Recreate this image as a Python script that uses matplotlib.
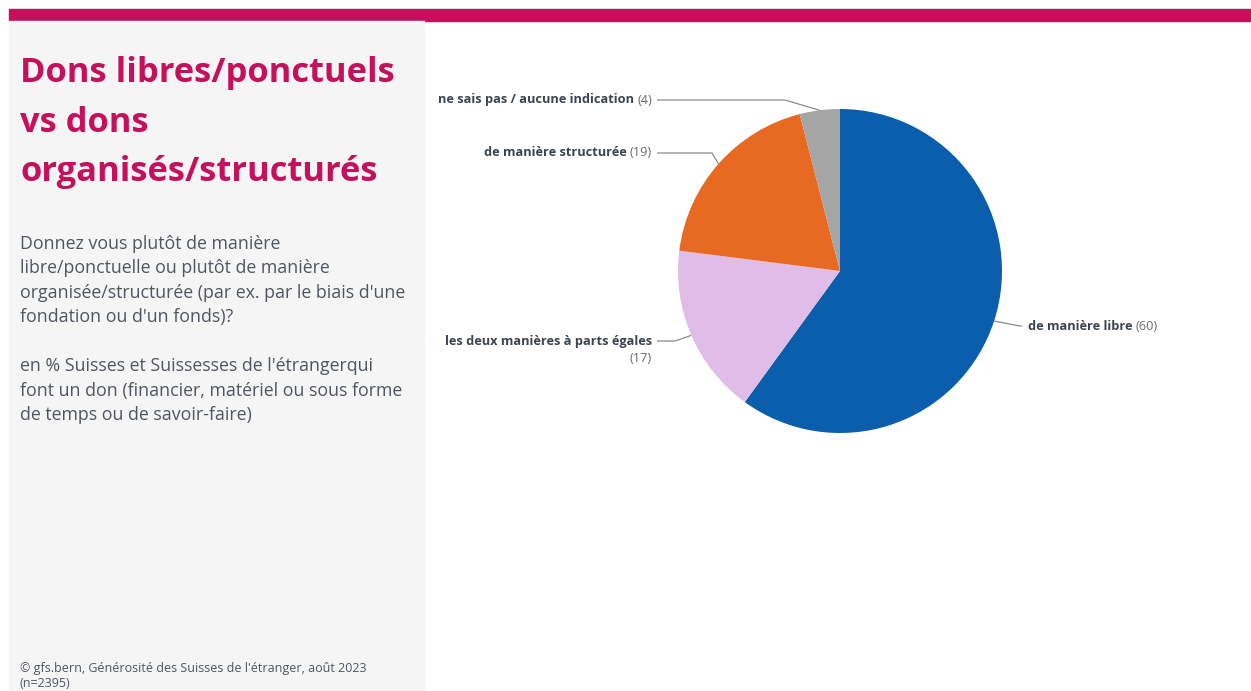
import numpy as np
import matplotlib.pyplot as plt
from matplotlib.patches import Rectangle

# données du sondage (en %)
categories = ['de manière libre', 'les deux manières à parts égales',
              'de manière structurée', 'ne sais pas / aucune indication']
valeurs = [60, 17, 19, 4]
couleurs = ['#0b5eab', '#e0bde8', '#e86a22', '#a5a5a5']

titre = 'Dons libres/ponctuels\nvs dons\norganisés/structurés'
question = ("Donnez vous plutôt de manière\n"
            "libre/ponctuelle ou plutôt de manière\n"
            "organisée/structurée (par ex. par le biais d'une\n"
            "fondation ou d'un fonds)?\n\n"
            "en % Suisses et Suissesses de l'étrangerqui\n"
            "font un don (financier, matériel ou sous forme\n"
            "de temps ou de savoir-faire)")
source = "© gfs.bern, Générosité des Suisses de l'étranger, août 2023\n(n=2395)"

W, H = 1251, 691
plt.rcParams['font.family'] = ['Open Sans', 'DejaVu Sans']

fig = plt.figure(figsize=(W / 100, H / 100), dpi=100)
fig.patch.set_facecolor('white')

# bandeau du haut et panneau gris de gauche (coordonnées en pixels)
bg = fig.add_axes([0, 0, 1, 1])
bg.set_xlim(0, W)
bg.set_ylim(H, 0)
bg.axis('off')
bg.add_patch(Rectangle((9, 9), W - 9, 12, color='#c5105b'))
bg.add_patch(Rectangle((9, 21), 415, H - 21, color='#f5f5f5'))

bg.text(20, 56, titre, color='#c5105b', fontsize=24.8, fontweight='bold',
        va='top', ha='left', linespacing=1.6)
bg.text(20, 235, question, color='#4f5660', fontsize=12.8, va='top',
        ha='left', linespacing=1.46)
bg.text(20, 662, source, color='#4f5660', fontsize=9, va='top', ha='left',
        linespacing=1.22)

# camembert : centre (840, 271) px, rayon 162 px
cx, cy, R = 840, 271, 162
x0, y0 = 430, 21
ax = fig.add_axes([x0 / W, 0, (W - x0) / W, (H - y0) / H])

wedges, _ = ax.pie(valeurs, colors=couleurs, startangle=90, counterclock=False,
                   radius=1, center=(0, 0), frame=True,
                   wedgeprops=dict(linewidth=0))
ax.set_xlim((x0 - cx) / R, (W - cx) / R)
ax.set_ylim(-(H - cy) / R, (cy - y0) / R)
ax.set_aspect('auto')
ax.axis('off')


def px(x, y):
    return (x - cx) / R, (cy - y) / R


def bord(w, r=1.0):
    a = np.deg2rad((w.theta1 + w.theta2) / 2)
    return r * np.cos(a), r * np.sin(a)


gris_ligne = '#8a8a8a'
sombre = '#3b4450'
clair = '#6a6a6a'
fs = 9.2

# positions des étiquettes : (x texte, y texte, x coude) en pixels
etiquettes = [
    (1028, 326, 1020, 'left'),
    (652, 341, 675, 'right'),
    (652, 153, 712, 'right'),
    (652, 100, 785, 'right'),
]

fig.canvas.draw()
rend = fig.canvas.get_renderer()

for w, cat, val, (tx, ty, ex, ha) in zip(wedges, categories, valeurs, etiquettes):
    bx, by = bord(w, 1.0)
    exd, eyd = px(ex, ty)
    if ha == 'left':
        lx0 = px(tx - 6, ty)[0]
    else:
        lx0 = px(tx + 5, ty)[0]
    ax.plot([lx0, exd, bx], [eyd, eyd, by], color=gris_ligne, lw=0.9,
            solid_capstyle='butt')

    txd, tyd = px(tx, ty)
    if cat.startswith('les deux'):
        ax.text(txd, tyd, cat, color=sombre, fontsize=fs, fontweight='bold',
                ha='right', va='center')
        ax.text(txd, px(tx, ty + 17)[1], f'({val})', color=clair, fontsize=fs,
                ha='right', va='center')
        continue
    if ha == 'left':
        t1 = ax.text(txd, tyd, cat + ' ', color=sombre, fontsize=fs,
                     fontweight='bold', ha='left', va='center')
        bb = t1.get_window_extent(rend)
        xx = ax.transData.inverted().transform((bb.x1, 0))[0]
        ax.text(xx, tyd, f'({val})', color=clair, fontsize=fs, ha='left',
                va='center')
    else:
        t2 = ax.text(txd, tyd, f'({val})', color=clair, fontsize=fs,
                     ha='right', va='center')
        bb = t2.get_window_extent(rend)
        xx = ax.transData.inverted().transform((bb.x0, 0))[0]
        ax.text(xx, tyd, cat + ' ', color=sombre, fontsize=fs,
                fontweight='bold', ha='right', va='center')

fig.savefig('out.png', dpi=100, facecolor='white')
